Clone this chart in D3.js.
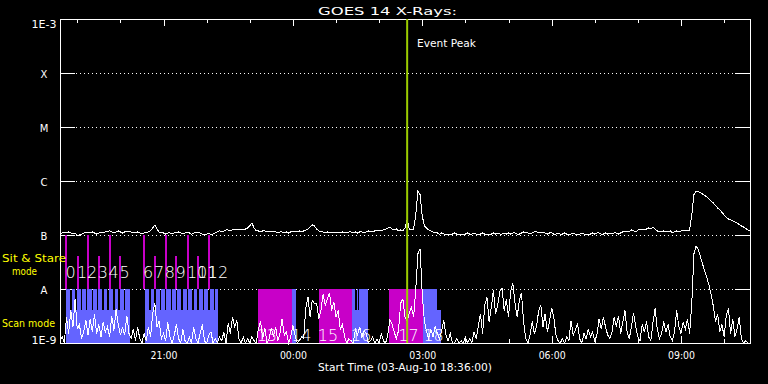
<!DOCTYPE html>
<html>
<head>
<meta charset="utf-8">
<script src="https://cdn.jsdelivr.net/npm/d3@7"></script>
<style>
body { margin: 0; background: #000; }
svg { display: block; }
text { font-family: "DejaVu Sans", sans-serif; }
</style>
</head>
<body>
<svg id="chart" width="768" height="384"></svg>
<script>
"use strict";

// GOES 14 fluxes, one sample every 3 minutes from the start time, in 1e-9 W/m^2
var startTime = "2010-08-03 18:36";
var endTime = "2010-08-04 10:36";
var cadenceMin = 3;

// 1-8 A channel
var longFlux = [
    104,109,111,109,114,109,104,109,100,100,
    104,109,114,109,109,114,109,104,109,114,
    109,114,114,119,114,109,114,119,114,109,
    114,119,114,114,109,109,114,109,104,109,
    109,114,119,135,154,129,114,109,109,104,
    109,109,104,109,109,114,109,104,109,109,
    109,104,109,109,114,109,104,100,104,109,
    100,104,109,114,119,114,119,124,124,119,
    124,129,124,129,129,124,129,135,147,167,
    135,119,119,114,119,119,114,119,114,114,
    114,109,114,114,109,114,109,114,119,114,
    114,119,114,119,124,129,141,154,147,129,
    119,114,114,109,114,109,109,114,109,109,
    109,114,109,109,114,114,109,114,109,114,
    114,109,114,119,114,114,119,119,124,119,
    124,129,135,141,129,124,129,119,124,119,
    135,198,129,124,129,235,651,560,225,147,
    135,124,119,114,109,109,104,109,104,104,
    104,100,104,109,104,104,100,104,104,109,
    104,104,109,104,100,104,109,104,104,100,
    104,109,104,109,104,104,109,104,109,104,
    109,109,104,104,109,114,109,109,104,109,
    114,114,109,114,109,109,104,109,109,104,
    104,109,104,104,109,104,100,104,109,104,
    104,104,109,104,100,104,104,109,104,109,
    109,104,104,109,104,109,104,109,109,104,
    109,114,114,119,114,124,119,114,124,129,
    129,124,129,135,129,141,129,119,114,114,
    119,114,114,119,109,114,119,114,119,124,
    119,119,124,235,560,640,640,610,575,540,
    505,464,426,391,352,316,292,261,235,211,
    198,190,182,174,167,156,147,141,132,124,119
];

// 0.5-4 A channel
var shortFlux = [
    1.1,1.3,1.0,3.0,1.5,4.0,2.0,6.5,1.8,2.2,
    1.2,1.6,2.6,1.4,2.8,1.6,3.4,1.5,2.2,1.3,
    2.4,1.6,2.0,1.3,3.2,1.7,4.2,2.2,1.4,2.0,
    1.4,3.2,1.5,1.2,1.8,1.1,2.0,1.2,1.0,1.5,
    1.1,2.0,1.3,3.5,5.5,2.0,2.6,1.2,1.5,1.1,
    2.4,1.3,1.0,1.4,2.2,1.2,1.0,1.8,1.1,1.0,
    1.3,1.0,2.0,1.2,1.0,1.5,2.2,1.1,1.0,1.4,
    1.6,1.0,1.2,1.0,1.3,1.1,1.6,1.0,2.3,1.5,
    3.0,2.0,2.6,1.2,1.0,1.3,1.0,1.2,1.0,1.3,
    1.1,1.0,1.8,2.5,1.2,1.9,1.0,1.2,1.9,1.3,
    2.0,1.1,1.5,2.8,1.4,1.6,1.0,1.3,2.1,1.4,
    1.0,1.1,1.3,1.2,4.5,7.2,3.0,6.2,5.3,5.5,
    2.8,4.0,8.0,5.0,6.5,8.5,4.0,5.8,3.0,4.0,
    1.8,2.2,1.3,1.0,1.2,1.1,1.0,1.8,1.4,2.0,
    1.3,1.7,1.5,1.0,1.1,1.3,1.0,1.2,1.0,1.5,
    1.1,1.0,1.4,2.7,2.2,1.6,1.2,1.7,5.5,6.5,
    3.0,2.5,3.6,4.6,3.0,10,45,55,8,2.5,
    1.6,1.2,1.8,1.3,2.0,1.5,1.2,1.7,2.6,1.4,
    1.1,1.5,1.0,1.0,1.2,1.0,1.1,1.0,1.3,1.0,
    1.2,1.0,1.6,1.2,2.0,3.5,1.5,5.0,7.0,2.5,
    4.5,9.5,3.5,5.0,9.0,10.5,4.0,6.5,3.0,9.0,
    13,5.5,3.0,6.0,8.5,2.5,1.2,1.0,1.4,2.5,
    1.5,2.0,4.0,5.0,2.0,3.5,1.6,2.5,4.5,3.0,
    1.4,1.1,1.0,1.2,1.0,1.3,1.1,2.6,1.4,1.7,
    2.3,1.2,1.0,1.5,1.2,1.8,1.3,1.6,1.1,1.4,
    2.8,1.8,3.0,2.0,1.4,1.2,1.6,3.0,2.0,3.2,
    1.5,2.4,4.0,1.6,1.2,2.0,3.6,2.0,1.3,1.1,
    2.2,1.6,2.5,1.3,1.1,2.4,4.4,1.8,1.2,1.5,
    2.5,1.6,2.2,1.3,1.1,1.6,4.0,2.0,1.5,2.4,
    1.8,2.8,1.5,5.5,45,62,55,40,29,21.5,
    16,11.8,7.7,4.8,2.5,3.4,1.6,2.2,1.3,3.2,
    4.4,1.5,2.8,1.3,1.8,3.0,1.2,1.0,1.1,1.0,1.0
];

// flux levels and their names on the y axis
var levelValues = [1e-9, 1e-8, 1e-7, 1e-6, 1e-5, 1e-4, 1e-3];
var levelNames = ["1E-9", "A", "B", "C", "M", "X", "1E-3"];

// sit & stare pointings, numbered 0..12, with the flux level their marker reaches
var sitStareTimes = ["18:45","19:01","19:15","19:30","19:45","20:00",
                     "20:33","20:48","21:03","21:18","21:34","21:48","22:03"];
var sitStareTops = [1e-7,4e-8,1e-7,4e-8,1e-7,4e-8,1e-7,4e-8,1e-7,4e-8,1e-7,4e-8,1e-7];

// long sit & stare runs
var sitStareRuns = [["23:11","23:59"], ["00:36","01:22"], ["02:14","03:01"]];

// scan mode rasters: tall ones reach level A, short ones a lower level
var scanTall = [
    ["18:44","18:50"],["18:52","18:57"],["18:59","19:05"],["19:07","19:12"],
    ["19:14","19:20"],["19:22","19:27"],["19:29","19:35"],["19:37","19:42"],
    ["19:44","19:50"],["19:52","19:57"],["19:59","20:05"],["20:07","20:13"],
    ["20:34","20:40"],["20:42","20:47"],["20:49","20:55"],["20:57","21:02"],
    ["21:04","21:10"],["21:12","21:17"],["21:19","21:25"],["21:27","21:32"],
    ["21:34","21:40"],["21:42","21:47"],["21:49","21:55"],["21:57","22:02"],
    ["22:04","22:10"],["22:12","22:16"],
    ["23:59","00:04"],
    ["01:22","01:27"],["01:29","01:31"],["01:32","01:45"],
    ["03:01","03:21"]
];
var scanShort = [["18:44","20:14"], ["20:34","22:16"], ["23:57","00:05"],
                 ["01:22","01:45"], ["03:01","03:26"]];
var scanTallTop = 1e-8;
var scanShortTop = 4.1e-9;

// observation numbers after the first thirteen
var runLabelTimes = ["23:11","23:59","00:36","01:22","02:28","03:03"];
var runLabels = ["13","14","15","16","17","18"];

var eventPeak = "02:39";

// ---------------------------------------------------------------

var parseFull = d3.timeParse("%Y-%m-%d %H:%M");
var tStart = parseFull(startTime);
var tEnd = parseFull(endTime);

function clock(s) {
    var p = s.split(":");
    var h = +p[0];
    return new Date(2010, 7, h >= 18 ? 3 : 4, h, +p[1]);
}

var plotLeft = 60, plotRight = 750, plotTop = 19, plotBottom = 343;

var svg = d3.select("#chart");

svg.append("rect")
    .attr("width", 768)
    .attr("height", 384)
    .attr("fill", "#000");

var x = d3.scaleTime().domain([tStart, tEnd]).range([plotLeft, plotRight]);
var y = d3.scaleLog().domain([1e-9, 1e-3]).range([plotBottom, plotTop]).clamp(true);

// dotted level lines
svg.append("g")
    .selectAll("line")
    .data(levelValues.slice(1, -1))
    .join("line")
    .attr("x1", plotLeft)
    .attr("x2", plotRight)
    .attr("y1", function(d) { return Math.round(y(d)) + 0.5; })
    .attr("y2", function(d) { return Math.round(y(d)) + 0.5; })
    .attr("stroke", "#fff")
    .attr("stroke-dasharray", "1,3")
    .attr("shape-rendering", "crispEdges");

// axes
function styleAxis(g) {
    g.attr("font-family", null).attr("font-size", null);
    g.selectAll("path, line").attr("stroke", "#fff").attr("shape-rendering", "crispEdges");
    g.selectAll("text").attr("fill", "#fff");
}

svg.append("g")
    .attr("transform", "translate(0," + plotBottom + ")")
    .call(d3.axisBottom(x).ticks(d3.timeHour.every(1)).tickSize(-4).tickSizeOuter(0).tickFormat(""))
    .call(styleAxis);

var xAxis = svg.append("g")
    .attr("transform", "translate(0," + plotBottom + ")")
    .call(d3.axisBottom(x).ticks(d3.timeHour.every(3)).tickSize(-7).tickSizeOuter(0)
        .tickFormat(d3.timeFormat("%H:%M")))
    .call(styleAxis);

xAxis.selectAll("text")
    .attr("y", 16)
    .attr("dy", 0)
    .attr("font-size", "10.5px")
    .attr("textLength", 27)
    .attr("lengthAdjust", "spacingAndGlyphs");

svg.append("g")
    .attr("transform", "translate(0," + plotTop + ")")
    .call(d3.axisTop(x).ticks(d3.timeHour.every(1)).tickSize(-4).tickSizeOuter(0).tickFormat(""))
    .call(styleAxis);

svg.append("g")
    .attr("transform", "translate(0," + plotTop + ")")
    .call(d3.axisTop(x).ticks(d3.timeHour.every(3)).tickSize(-7).tickSizeOuter(0).tickFormat(""))
    .call(styleAxis);

var yAxis = svg.append("g")
    .attr("transform", "translate(" + plotLeft + ",0)")
    .call(d3.axisLeft(y).tickValues(levelValues).tickSize(-15).tickSizeOuter(0).tickPadding(16)
        .tickFormat(function(d, i) { return levelNames[i]; }))
    .call(styleAxis);

yAxis.selectAll("text")
    .attr("text-anchor", "middle")
    .attr("font-size", "10px")
    .attr("dy", function(d) { return d === 1e-3 ? "8px" : (d === 1e-9 ? "0px" : "4px"); })
    .attr("textLength", function(d, i) { return levelNames[i].length > 1 ? 25 : null; })
    .attr("lengthAdjust", "spacingAndGlyphs");

svg.append("g")
    .attr("transform", "translate(" + plotRight + ",0)")
    .call(d3.axisRight(y).tickValues(levelValues).tickSize(-15).tickSizeOuter(0).tickFormat(""))
    .call(styleAxis);

// observation plan
var obs = svg.append("g").attr("shape-rendering", "crispEdges");

obs.selectAll("rect.short")
    .data(scanShort)
    .join("rect")
    .attr("class", "short")
    .attr("x", function(d) { return x(clock(d[0])); })
    .attr("width", function(d) { return x(clock(d[1])) - x(clock(d[0])); })
    .attr("y", y(scanShortTop))
    .attr("height", y(1e-9) - y(scanShortTop))
    .attr("fill", "#6464ff");

obs.selectAll("rect.tall")
    .data(scanTall)
    .join("rect")
    .attr("class", "tall")
    .attr("x", function(d) { return x(clock(d[0])); })
    .attr("width", function(d) { return x(clock(d[1])) - x(clock(d[0])); })
    .attr("y", y(scanTallTop))
    .attr("height", y(1e-9) - y(scanTallTop))
    .attr("fill", "#6464ff");

obs.selectAll("rect.run")
    .data(sitStareRuns)
    .join("rect")
    .attr("class", "run")
    .attr("x", function(d) { return x(clock(d[0])); })
    .attr("width", function(d) { return x(clock(d[1])) - x(clock(d[0])); })
    .attr("y", y(1e-8))
    .attr("height", y(1e-9) - y(1e-8))
    .attr("fill", "#c800c8");

obs.selectAll("line.ss")
    .data(sitStareTimes)
    .join("line")
    .attr("class", "ss")
    .attr("x1", function(d) { return x(clock(d)); })
    .attr("x2", function(d) { return x(clock(d)); })
    .attr("y1", function(d, i) { return y(sitStareTops[i]); })
    .attr("y2", y(1e-8))
    .attr("stroke", "#c800c8")
    .attr("stroke-width", 2);

// light curves
function series(values) {
    return values.map(function(v, i) {
        return { t: d3.timeMinute.offset(tStart, i * cadenceMin), v: v * 1e-9 };
    });
}

var line = d3.line()
    .x(function(d) { return x(d.t); })
    .y(function(d) { return y(d.v); });

svg.append("path")
    .datum(series(shortFlux))
    .attr("d", line)
    .attr("fill", "none")
    .attr("stroke", "#fff")
    .attr("stroke-width", 1)
    .attr("shape-rendering", "crispEdges");

svg.append("path")
    .datum(series(longFlux))
    .attr("d", line)
    .attr("fill", "none")
    .attr("stroke", "#fff")
    .attr("stroke-width", 1)
    .attr("shape-rendering", "crispEdges");

// event peak marker
svg.append("line")
    .attr("x1", x(clock(eventPeak)))
    .attr("x2", x(clock(eventPeak)))
    .attr("y1", plotTop)
    .attr("y2", plotBottom)
    .attr("stroke", "#9ccc00")
    .attr("stroke-width", 2);

svg.append("text")
    .attr("x", 417)
    .attr("y", 46.5)
    .attr("font-size", "11px")
    .attr("fill", "#fff")
    .attr("textLength", 59)
    .attr("lengthAdjust", "spacingAndGlyphs")
    .text("Event Peak");

// observation numbers (10, 11 and 12 overlap in the original too)
svg.append("g")
    .selectAll("text")
    .data(sitStareTimes)
    .join("text")
    .attr("x", function(d) { return x(clock(d)) - 1; })
    .attr("y", 278)
    .attr("font-size", "16px")
    .attr("font-weight", 200)
    .attr("fill", "#fff")
    .text(function(d, i) { return String(i); });

svg.append("g")
    .selectAll("text")
    .data(runLabelTimes)
    .join("text")
    .attr("x", function(d) { return x(clock(d)) - 1; })
    .attr("y", 341)
    .attr("font-size", "16px")
    .attr("font-weight", 200)
    .attr("fill", "#fff")
    .text(function(d, i) { return runLabels[i]; });

// titles
svg.append("text")
    .attr("x", 318)
    .attr("y", 14.5)
    .attr("font-size", "11px")
    .attr("fill", "#fff")
    .attr("textLength", 139)
    .attr("lengthAdjust", "spacingAndGlyphs")
    .text("GOES 14 X-Rays:");

svg.append("text")
    .attr("x", 318)
    .attr("y", 371)
    .attr("font-size", "10.5px")
    .attr("fill", "#fff")
    .attr("textLength", 174)
    .attr("lengthAdjust", "spacingAndGlyphs")
    .text("Start Time (03-Aug-10 18:36:00)");

var modeLabels = svg.append("g").attr("fill", "#ffff00").attr("font-size", "11px");

modeLabels.append("text")
    .attr("x", 2).attr("y", 262)
    .attr("textLength", 64).attr("lengthAdjust", "spacingAndGlyphs")
    .text("Sit & Stare");

modeLabels.append("text")
    .attr("x", 12).attr("y", 275)
    .attr("textLength", 25).attr("lengthAdjust", "spacingAndGlyphs")
    .text("mode");

modeLabels.append("text")
    .attr("x", 2).attr("y", 327)
    .attr("textLength", 53).attr("lengthAdjust", "spacingAndGlyphs")
    .text("Scan mode");
</script>
</body>
</html>
